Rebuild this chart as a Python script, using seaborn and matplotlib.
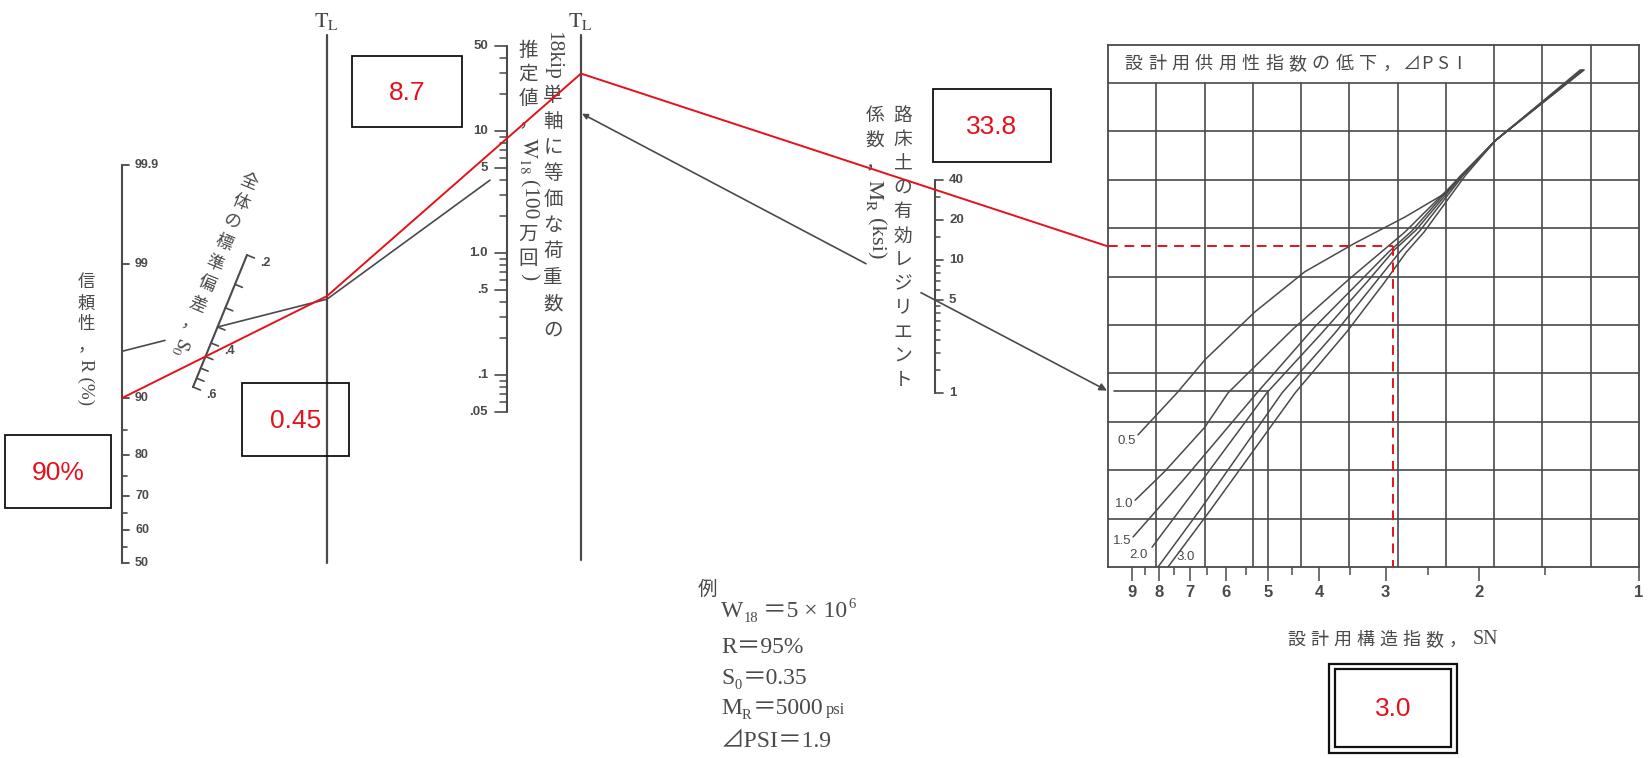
import numpy as np
import pandas as pd
import matplotlib
matplotlib.use('Agg')
import matplotlib.pyplot as plt
from matplotlib.patches import Rectangle
from matplotlib.transforms import blended_transform_factory
from matplotlib.ticker import NullFormatter
import seaborn as sns
from statistics import NormalDist

sns.set_theme(style='white')
plt.rcParams['font.family'] = ['Noto Sans CJK JP', 'DejaVu Sans']
plt.rcParams['mathtext.fontset'] = 'stix'
plt.rcParams['axes.unicode_minus'] = False

CJK = ['Noto Sans CJK JP', 'DejaVu Sans']
SERIF = ['Liberation Serif', 'DejaVu Serif', 'Noto Sans CJK JP']
SANS = ['Liberation Sans', 'DejaVu Sans']
INK = '#4a4a4a'
RED = '#e3121c'

# ---- scale ticks ----
r_major = [50, 60, 70, 80, 90, 99, 99.9]
r_labels = ['50', '60', '70', '80', '90', '99', '99.9']
r_minor = [55, 65, 75, 85]
s0_ticks = [0.2, 0.25, 0.3, 0.35, 0.4, 0.45, 0.5, 0.55, 0.6]
s0_named = [0.2, 0.4, 0.6]
s0_labels = ['.2', '.4', '.6']
w18_major = [0.05, 0.1, 0.5, 1.0, 5, 10, 50]
w18_labels = ['.05', '.1', '.5', '1.0', '5', '10', '50']
w18_minor = [0.06, 0.07, 0.08, 0.09, 0.2, 0.3, 0.4, 0.6, 0.7, 0.8, 0.9,
             2, 3, 4, 6, 7, 8, 9, 20, 30, 40]
mr_major = [1, 5, 10, 20, 40]
mr_labels = ['1', '5', '10', '20', '40']
mr_minor = [1.5, 2, 2.5, 3, 3.5, 4, 4.5, 6, 7, 8, 9, 15, 30]
sn_major = [1, 2, 3, 4, 5, 6, 7, 8, 9]
sn_minor = [1.5, 2.5, 3.5, 4.5, 5.5, 6.5, 7.5, 8.5]

# ---- ΔPSI curves: SN against grid level (rows counted from the bottom) ----
dpsi_names = ['0.5', '1.0', '1.5', '2.0', '2.5', '3.0']
dpsi_05_sn = [8.78, 7.41, 6.57, 5.29, 4.26, 3.43, 2.76, 2.31, 1.86, 1.29]
dpsi_05_lvl = [2.73, 3.60, 4.28, 5.27, 6.10, 6.69, 7.23, 7.73, 8.82, 10.27]
dpsi_10_sn = [8.89, 7.81, 6.57, 5.94, 4.50, 3.53, 2.76, 2.17, 1.86, 1.28]
dpsi_10_lvl = [1.38, 1.98, 2.89, 3.60, 4.90, 5.93, 6.92, 8.06, 8.82, 10.27]
dpsi_15_sn = [8.97, 7.16, 5.24, 4.08, 3.35, 2.96, 2.68, 2.17, 1.86, 1.28]
dpsi_15_lvl = [0.62, 1.84, 3.60, 4.96, 5.91, 6.51, 6.94, 8.08, 8.82, 10.27]
dpsi_20_sn = [8.26, 6.86, 5.02, 3.99, 3.24, 2.89, 2.63, 2.15, 1.86, 1.28]
dpsi_20_lvl = [0.41, 1.59, 3.60, 4.79, 5.91, 6.55, 6.96, 8.10, 8.82, 10.27]
dpsi_25_sn = [8.05, 6.71, 4.70, 3.74, 3.13, 2.82, 2.59, 2.14, 1.86, 1.27]
dpsi_25_lvl = [0.0, 1.18, 3.60, 4.83, 5.89, 6.51, 6.94, 8.10, 8.82, 10.27]
dpsi_30_sn = [7.71, 6.37, 4.44, 3.55, 3.02, 2.75, 2.54, 2.12, 1.86, 1.27]
dpsi_30_lvl = [0.0, 1.22, 3.60, 4.86, 5.87, 6.49, 6.92, 8.10, 8.82, 10.27]

# ---- worked example (grey) and answer (red) ----
ex_r, ex_s0, ex_w18, ex_mr, ex_sn = 95, 0.35, 5, 5, 5
ans_r, ans_s0, ans_w18, ans_mr, ans_sn = 90, 0.45, 8.7, 33.8, 2.9
ans_texts = ['90%', '0.45', '8.7', '33.8', '3.0']

# ---- layout of the nomograph (pixels) ----
W, H = 1651, 758
R_X = 122
TL1_X, TL2_X = 327, 581
W_X, M_X = 507, 935
G_L, G_R, G_T, G_B, ROW = 1108, 1639, 45, 567, 48.4


def r_y(p):
    return 563 - 128.7 * NormalDist().inv_cdf(p / 100)


def s0_xy(s):
    u = s - 0.2
    t = 5 * u / (1 + 2.5 * u)
    return np.array([247 - 54 * t, 255 + 132 * t])


def w_y(v):
    return 253 - 122 * np.log10(v)


def m_y(v):
    return 393 - 133 * np.log10(v)


def hit(p, q, x):
    return p[1] + (q[1] - p[1]) * (x - p[0]) / (q[0] - p[0])


fig = plt.figure(figsize=(W / 100, H / 100), dpi=100)
ax = fig.add_axes([0, 0, 1, 1])
ax.set_xlim(0, W)
ax.set_ylim(H, 0)
ax.axis('off')
renderer = fig.canvas.get_renderer()


def text_len(s, size, family):
    t = ax.text(0, 0, s, fontsize=size, family=family)
    w = t.get_window_extent(renderer).width
    t.remove()
    return w


def lay(x, y, segs, size, ang=-90.0, column=True, lat=1.1, draw=True):
    # segs: (text, pitch); pitch -> one glyph per cell, None -> latin run along the line
    r = np.deg2rad(ang)
    d = np.array([np.cos(r), -np.sin(r)])
    crot = ang + 90 if column else ang
    p = np.array([x, y], float)
    for s, pitch in segs:
        if pitch:
            for ch in s:
                c = p + d * pitch / 2
                if draw and ch != ' ':
                    ax.text(c[0], c[1], ch, fontsize=size, color=INK, rotation=crot,
                            rotation_mode='anchor', ha='center', va='center', family=CJK)
                p = p + d * pitch
        else:
            w = text_len(s, size * lat, SERIF)
            c = p + d * 3
            if draw:
                ax.text(c[0], c[1], s, fontsize=size * lat, color=INK, rotation=ang,
                        rotation_mode='anchor', ha='left', va='center', family=SERIF)
            p = c + d * (w + 3)
    return p


def row(x, y, pieces, size):
    for s, k, dy, gap in pieces:
        t = ax.text(x, y + dy, s, fontsize=size * k, family=SERIF, color=INK,
                    ha='left', va='baseline')
        x += t.get_window_extent(renderer).width + gap


# ---- T_L turning lines ----
for xl, yb in [(TL1_X, 563), (TL2_X, 560)]:
    ax.plot([xl, xl], [35, yb], color=INK, lw=1.6)
    ax.text(xl, 20, r'$\mathrm{T_L}$', fontsize=16, color=INK, ha='center', va='center')

# ---- reliability scale R ----
ax.plot([R_X, R_X], [r_y(99.9), r_y(50)], color=INK, lw=1.5)
for v, lab in zip(r_major, r_labels):
    ax.plot([R_X, R_X + 7], [r_y(v)] * 2, color=INK, lw=1.3)
    ax.text(R_X + 13, r_y(v), lab, fontsize=9, color=INK, va='center', ha='left',
            family=SANS, fontweight='bold')
for v in r_minor:
    ax.plot([R_X, R_X + 5], [r_y(v)] * 2, color=INK, lw=1.2)
lay(86, 272, [('信頼性，', 21), ('R (%)', None)], 12.5)

# ---- overall standard deviation S0 ----
p0, p1 = s0_xy(s0_ticks[0]), s0_xy(s0_ticks[-1])
ax.plot([p0[0], p1[0]], [p0[1], p1[1]], color=INK, lw=1.5)
along = (p1 - p0) / np.hypot(*(p1 - p0))
perp = np.array([along[1], -along[0]])
for v in s0_ticks:
    q = s0_xy(v)
    e = q + perp * 8
    ax.plot([q[0], e[0]], [q[1], e[1]], color=INK, lw=1.2)
for v, lab in zip(s0_named, s0_labels):
    q = s0_xy(v) + perp * 20
    ax.text(q[0], q[1], lab, fontsize=9, color=INK, ha='center', va='center',
            family=SANS, fontweight='bold')
lay(253, 172, [('全体の標準偏差，', 22), (r'$\mathrm{S_0}$', None)], 12.5, ang=-112.5)

# ---- W18 scale ----
ax.plot([W_X, W_X], [w_y(50), w_y(0.05)], color=INK, lw=1.5)
for v, lab in zip(w18_major, w18_labels):
    ax.plot([W_X - 12, W_X], [w_y(v)] * 2, color=INK, lw=1.2)
    ax.text(488, w_y(v), lab, fontsize=9.5, color=INK, ha='right', va='center',
            family=SANS, fontweight='bold')
for v in w18_minor:
    ax.plot([W_X - 7, W_X], [w_y(v)] * 2, color=INK, lw=1.1)
lay(553, 28, [('18kip', None), ('単軸に等価な荷重数の', 26)], 14)
lay(528, 38, [('推定値，', 24), (r'$\mathrm{W_{18}}$', None), ('(100', None),
              ('万回', 24), (')', None)], 14)

# ---- resilient modulus M_R ----
ax.plot([M_X, M_X], [m_y(40), m_y(1)], color=INK, lw=1.5)
for v, lab in zip(mr_major, mr_labels):
    ax.plot([M_X, M_X + 8], [m_y(v)] * 2, color=INK, lw=1.2)
    ax.text(M_X + 14, m_y(v), lab, fontsize=9.5, color=INK, ha='left', va='center',
            family=SANS, fontweight='bold')
for v in mr_minor:
    ax.plot([M_X, M_X + 5], [m_y(v)] * 2, color=INK, lw=1.1)
lay(903, 104, [('路床土の有効レジリエント', 24)], 13.5)
lay(875, 104, [('係数，', 24), (r'$\mathrm{M_R}$', None), ('(ksi)', None)], 13.5, lat=1.2)

# ---- design chart grid ----
gax = fig.add_axes([G_L / W, 1 - G_B / H, (G_R - G_L) / W, (G_B - G_T) / H])
gax.patch.set_alpha(0)
top_lvl = (G_B - G_T) / ROW
curves = pd.DataFrame({
    'sn': dpsi_05_sn + dpsi_10_sn + dpsi_15_sn + dpsi_20_sn + dpsi_25_sn + dpsi_30_sn,
    'lvl': dpsi_05_lvl + dpsi_10_lvl + dpsi_15_lvl + dpsi_20_lvl + dpsi_25_lvl + dpsi_30_lvl,
    'dpsi': np.repeat(dpsi_names, len(dpsi_05_sn)),
})
gax.set_xscale('log')
sns.lineplot(data=curves, x='sn', y='lvl', units='dpsi', estimator=None, sort=False,
             color=INK, lw=1.1, ax=gax, legend=False)
for k in range(1, 11):
    gax.axhline(k, color=INK, lw=1.2)
bt = blended_transform_factory(gax.transAxes, gax.transData)
for j in range(1, 11):
    gax.plot([j / 11, j / 11], [0, 10 if j < 8 else top_lvl], transform=bt, color=INK, lw=1.2)
for sp in gax.spines.values():
    sp.set_color(INK)
    sp.set_linewidth(1.3)
gax.set_xlim(10, 1)
gax.set_ylim(0, top_lvl)
gax.set_xlabel('')
gax.set_ylabel('')
gax.set_yticks([])
gax.set_xticks(sn_major)
gax.set_xticklabels([str(v) for v in sn_major])
gax.set_xticks(sn_minor, minor=True)
gax.xaxis.set_minor_formatter(NullFormatter())
gax.tick_params(axis='x', which='both', bottom=True, direction='out', color=INK, width=1.1)
gax.tick_params(axis='x', which='major', length=10, pad=3, labelsize=12, labelcolor=INK)
gax.tick_params(axis='x', which='minor', length=6)
for t in gax.get_xticklabels():
    t.set_family(SANS)
    t.set_fontweight('bold')

firsts = curves.groupby('dpsi', sort=False).first()
offsets = {'0.5': (-2, -6, 'right'), '1.0': (-2, -4, 'right'), '1.5': (-2, -4, 'right'),
           '2.0': (-4, -8, 'right'), '3.0': (8, 10, 'left')}
for name, (ox, oy, ha) in offsets.items():
    gax.annotate(name, (firsts.loc[name, 'sn'], firsts.loc[name, 'lvl']),
                 xytext=(ox, oy), textcoords='offset pixels', ha=ha, va='center',
                 fontsize=9.5, color=INK, family=SANS)

lay(1122, 64, [('設計用供用性指数の低下，', 23.4), ('⊿PSI', 16)], 13, ang=0, column=False)
sn_title = [('設計用構造指数，', 23), ('SN', None)]
end = lay(0, 640, sn_title, 13, ang=0, column=False, draw=False)
lay(1393 - end[0] / 2, 640, sn_title, 13, ang=0, column=False)

# ---- grey worked example path ----
a2 = np.array([R_X, r_y(ex_r)])
b2 = s0_xy(ex_s0)
piv2 = np.array([TL1_X, hit(a2, b2, TL1_X)])
ax.plot([a2[0], 165], [a2[1], hit(a2, b2, 165)], color=INK, lw=1.2)
ax.plot([b2[0], piv2[0]], [b2[1], piv2[1]], color=INK, lw=1.2)
c2 = np.array([W_X, w_y(ex_w18)])
ax.plot([piv2[0], 490], [piv2[1], hit(piv2, c2, 490)], color=INK, lw=1.2)
top2 = np.array([TL2_X, hit(piv2, c2, TL2_X)])
d2 = np.array([M_X, m_y(ex_mr)])
ax.annotate('', xy=(TL2_X + 1, top2[1]), xytext=(866, hit(top2, d2, 866)),
            arrowprops=dict(arrowstyle='-|>', color=INK, lw=1.2, mutation_scale=8,
                            shrinkA=0, shrinkB=0))
edge2 = np.array([G_L - 1, hit(top2, d2, G_L - 1)])
ax.annotate('', xy=edge2, xytext=(921, hit(top2, d2, 921)),
            arrowprops=dict(arrowstyle='-|>', color=INK, lw=1.2, mutation_scale=11,
                            shrinkA=0, shrinkB=0))
lvl2 = (G_B - edge2[1]) / ROW
gax.plot([9.75, ex_sn], [lvl2, lvl2], color=INK, lw=1.2)
gax.plot([ex_sn, ex_sn], [lvl2, 0], color=INK, lw=1.2)

# ---- red answer path ----
a = np.array([R_X, r_y(ans_r)])
b = s0_xy(ans_s0)
piv = np.array([TL1_X, hit(a, b, TL1_X)])
c = np.array([W_X, w_y(ans_w18)])
top = np.array([TL2_X, hit(piv, c, TL2_X)])
d = np.array([M_X, m_y(ans_mr)])
edge = np.array([G_L, hit(top, d, G_L)])
path = np.array([a, piv, top, edge])
ax.plot(path[:, 0], path[:, 1], color=RED, lw=1.4, zorder=5)
lvl = (G_B - edge[1]) / ROW
gax.plot([10, ans_sn], [lvl, lvl], color=RED, lw=1.4, ls=(0, (5, 3.5)), zorder=5)
gax.plot([ans_sn, ans_sn], [lvl, 0], color=RED, lw=1.4, ls=(0, (5, 3.5)), zorder=5)

# ---- answer boxes ----
boxes = [(5, 435, 106, 73), (242, 383, 107, 73), (352, 56, 110, 71), (933, 89, 118, 73)]
for (bx, by, bw, bh), txt in zip(boxes, ans_texts[:4]):
    ax.add_patch(Rectangle((bx, by), bw, bh, fill=False, ec='#111111', lw=1.3, zorder=6))
    ax.text(bx + bw / 2, by + bh / 2 + 1, txt, color=RED, fontsize=19, ha='center',
            va='center', family=SANS, zorder=6)
ax.add_patch(Rectangle((1329, 664), 128, 89, fill=False, ec='#111111', lw=1.6))
ax.add_patch(Rectangle((1335, 669), 116, 78, fill=False, ec='#111111', lw=1.6))
ax.text(1393, 709, ans_texts[4], color=RED, fontsize=19, ha='center', va='center', family=SANS)

# ---- worked example text ----
ax.text(698, 595, '例', fontsize=14, color=INK, family=CJK, va='baseline')
ex_lines = [
    [('W', 1, 0, 0), ('18', .62, 5, 5), ('＝5 × 10', 1, 0, 1), ('6', .62, -9, 0)],
    [('R＝95%', 1, 0, 0)],
    [('S', 1, 0, 0), ('0', .62, 5, 1), ('＝0.35', 1, 0, 0)],
    [('M', 1, 0, 0), ('R', .62, 5, 1), ('＝5000', 1, 0, 3), ('psi', .7, 0, 0)],
    [('⊿PSI＝1.9', 1, 0, 0)],
]
for yb, pieces in zip([617, 653, 684, 714, 747], ex_lines):
    row(721, yb, pieces, 17)

fig.savefig('out.png', dpi=100)
